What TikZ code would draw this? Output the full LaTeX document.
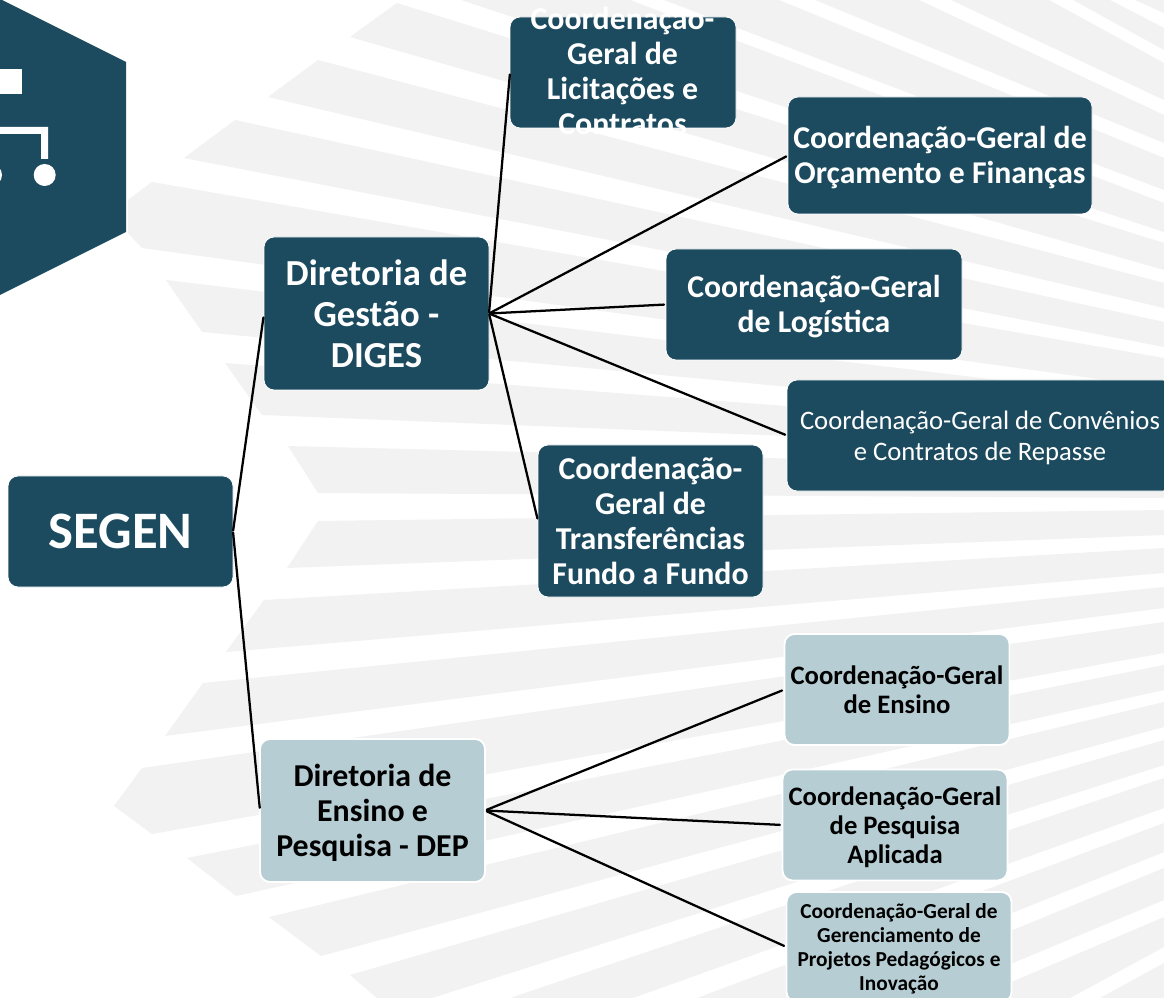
\documentclass[tikz,border=0pt]{standalone}
\usepackage{fontspec}
\setmainfont{Carlito}
\definecolor{stripegray}{HTML}{F2F2F2}
\definecolor{darkteal}{HTML}{1C4B5F}
\definecolor{lightteal}{HTML}{B6CDD4}
\def\px{0.75pt}
\newcommand{\lowtext}[1]{\rule{0pt}{#1}}
\tikzset{
  stripe/.style={fill=stripegray,draw=none},
  iconwhite/.style={fill=white,draw=none},
  basebox/.style={rectangle,rounded corners=7.5pt,inner sep=0pt,outer sep=0pt,align=center},
  darkbox/.style={basebox,fill=darkteal,draw=white,line width=0.6pt,text=white,font=\bfseries},
  lightbox/.style={basebox,fill=lightteal,draw=white,line width=1.4pt,text=black,font=\bfseries},
  conn/.style={draw=black,line width=1.7pt,line cap=round},
  fsA/.style={font=\fontsize{23.8}{26.25}\selectfont\bfseries},
  fsB/.style={font=\fontsize{23.9}{26.25}\selectfont\bfseries},
  fsC/.style={font=\fontsize{20}{21.75}\selectfont\bfseries},
}
\begin{document}
\begin{tikzpicture}[x=0.75pt,y=-0.75pt]
\clip (0,0) rectangle (1164,998);
\fill[white] (0,0) rectangle (1164,998);
% background fan of stripes
\fill[stripe] (1135,0) -- (1164,0) -- (1164,13) -- cycle;
\fill[stripe] (1110,0) -- (1164,28) -- (1164,50) -- (1073,0) -- cycle;
\fill[stripe] (1049,0) -- (1164,63) -- (1164,100) -- (951,0) -- cycle;
\fill[stripe] (919,0) -- (1164,115) -- (1164,143) -- (815,0) -- cycle;
\fill[stripe] (779,0) -- (1164,158) -- (1164,190) -- (664,0) -- cycle;
\fill[stripe] (630,0) -- (1164,203) -- (1164,232) -- (461,0) -- cycle;
\fill[stripe] (397,3) -- (1164,243) -- (1164,270) -- (350,37) -- cycle;
\fill[stripe] (318,60) -- (1164,283) -- (1164,308) -- (268,97) -- cycle;
\fill[stripe] (235,120) -- (1164,322) -- (1164,347) -- (184,158) -- cycle;
\fill[stripe] (152,182) -- (1164,358) -- (1164,388) -- (142,248) -- (128,233) -- (128,200) -- cycle;
\fill[stripe] (166,280) -- (1164,400) -- (1164,422) -- (202,332) -- cycle;
\fill[stripe] (225,363) -- (1164,435) -- (1164,451) -- (262,415) -- cycle;
\fill[stripe] (288,446) -- (1164,468) -- (1164,498) -- (318,493) -- cycle;
\fill[stripe] (318,521) -- (1164,510) -- (1164,535) -- (287,568) -- cycle;
\fill[stripe] (264,600) -- (1164,548) -- (1164,573) -- (226,652) -- cycle;
\fill[stripe] (203,683) -- (1164,587) -- (1164,608) -- (165,736) -- cycle;
\fill[stripe] (142,768) -- (1164,622) -- (1164,653) -- (152,834) -- (114,806) -- cycle;
\fill[stripe] (187,858) -- (1164,665) -- (1164,690) -- (236,896) -- cycle;
\fill[stripe] (269,917) -- (1164,702) -- (1164,727) -- (321,956) -- cycle;
\fill[stripe] (350,975) -- (1164,740) -- (1164,765) -- (432,998) -- (377,998) -- cycle;
\fill[stripe] (510,998) -- (1164,778) -- (1164,808) -- (633,998) -- cycle;
\fill[stripe] (697,998) -- (1164,823) -- (1164,852) -- (800,998) -- cycle;
\fill[stripe] (847,998) -- (1164,868) -- (1164,900) -- (929,998) -- cycle;
\fill[stripe] (974,998) -- (1164,917) -- (1164,947) -- (1070,998) -- cycle;
\fill[stripe] (1100,998) -- (1164,963) -- (1164,998) -- cycle;
% hexagon icon
\fill[darkteal] (0,-1) -- (126,62) -- (126,232) -- (0,295) -- cycle;
\fill[iconwhite] (0,69) rectangle (21.5,94);
\fill[iconwhite] (0,127) -- (48,127) -- (48,159) -- (41,159) -- (41,134) -- (0,134) -- cycle;
\fill[iconwhite] (44.7,175) circle (11);
\fill[iconwhite] (-9,175) circle (11);
% nodes
\node[darkbox,minimum width=225*\px,minimum height=111*\px,font=\fontsize{39.5}{44}\selectfont\bfseries] (segen) at (120.5,531.5) {SEGEN};
\node[darkbox,minimum width=225*\px,minimum height=153*\px,font=\fontsize{27.5}{30.7}\selectfont\bfseries] (diges) at (376.5,313.5) {Diretoria de\\Gestão -\\DIGES};
\node[darkbox,minimum width=226*\px,minimum height=111*\px] (licit) at (623,72.5) {};
\node[inner sep=0pt,outer sep=0pt,align=center,text=white,fsB] (licittext) at (622.5,71) {Coordenação-\\Geral de\\Licitações e\\Contratos};
\node[darkbox,fsA,minimum width=304*\px,minimum height=117*\px] (orcam) at (940,155.5) {\lowtext{20.5pt}Coordenação-Geral de\\Orçamento e Finanças};
\node[darkbox,fsA,minimum width=296*\px,minimum height=111*\px] (logist) at (814,304.5) {\lowtext{20.5pt}Coordenação-Geral\\de Logística};
\node[darkbox,font=\fontsize{20}{22.9}\selectfont,minimum width=386*\px,minimum height=111*\px] (conven) at (980,435.5) {\lowtext{17.5pt}Coordenação-Geral de Convênios\\e Contratos de Repasse};
\node[darkbox,fsB,minimum width=225*\px,minimum height=152*\px] (transf) at (650.5,521) {Coordenação-\\Geral de\\Transferências\\Fundo a Fundo};
\node[lightbox,fsB,minimum width=225*\px,minimum height=143*\px] (dep) at (372.5,810.5) {\lowtext{20.5pt}Diretoria de\\Ensino e\\Pesquisa - DEP};
\node[lightbox,fsC,minimum width=225*\px,minimum height=111*\px] (ensino) at (897,689.5) {Coordenação-Geral\\de Ensino};
\node[lightbox,fsC,minimum width=225*\px,minimum height=111*\px] (pesq) at (895,825) {\lowtext{17pt}Coordenação-Geral\\de Pesquisa\\Aplicada};
\node[lightbox,font=\fontsize{16}{18}\selectfont\bfseries,minimum width=225*\px,minimum height=110*\px] (geren) at (899,947) {\lowtext{14.5pt}Coordenação-Geral de\\Gerenciamento de\\Projetos Pedagógicos e\\Inovação};
% connectors
\draw[conn,shorten <=0.8pt,shorten >=3pt] (segen.east) -- (diges.west);
\draw[conn,shorten <=0.8pt,shorten >=2pt] (segen.east) -- (dep.west);
\draw[conn,shorten <=0.8pt,shorten >=1.5pt] (diges.east) -- (licit.west);
\draw[conn,shorten <=0.8pt,shorten >=1.5pt] (diges.east) -- (orcam.west);
\draw[conn,shorten <=0.8pt,shorten >=1.5pt] (diges.east) -- (logist.west);
\draw[conn,shorten <=0.8pt,shorten >=1.5pt] (diges.east) -- (conven.west);
\draw[conn,shorten <=0.8pt,shorten >=2pt] (diges.east) -- (transf.west);
\draw[conn,shorten <=1.5pt,shorten >=2pt] (dep.east) -- (ensino.west);
\draw[conn,shorten <=1.5pt,shorten >=2pt] (dep.east) -- (pesq.west);
\draw[conn,shorten <=1.5pt,shorten >=2pt] (dep.east) -- (geren.west);
\end{tikzpicture}
\end{document}
